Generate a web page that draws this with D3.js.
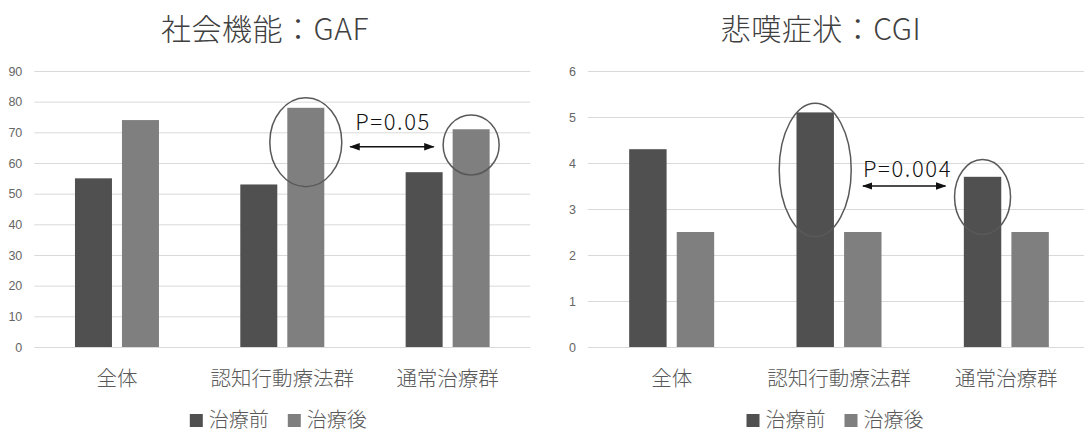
<!DOCTYPE html>
<html><head><meta charset="utf-8">
<script src="https://cdn.jsdelivr.net/npm/d3@7"></script>
<style>body{margin:0;background:#fff}svg{display:block}text{font-family:"Noto Sans CJK JP","Noto Sans",sans-serif;font-weight:300}</style>
</head><body>
<svg id="c" width="1084" height="433"></svg>
<script>
const categories = ["全体", "認知行動療法群", "通常治療群"];
const seriesNames = ["治療前", "治療後"];
const gafBefore = [55, 53, 57];
const gafAfter = [74, 78, 71];
const cgiBefore = [4.3, 5.1, 3.7];
const cgiAfter = [2.5, 2.5, 2.5];
const gafTicks = [0, 10, 20, 30, 40, 50, 60, 70, 80, 90];
const cgiTicks = [0, 1, 2, 3, 4, 5, 6];
const titles = ["社会機能：GAF", "悲嘆症状：CGI"];
const pLabels = ["P=0.05", "P=0.004"];
const colors = ["#505050", "#7f7f7f"];

const svg = d3.select("#c");
const defs = svg.append("defs");
defs.append("marker").attr("id","ah").attr("viewBox","0 0 10 10").attr("refX",9).attr("refY",5)
  .attr("markerWidth",7).attr("markerHeight",7).attr("orient","auto-start-reverse")
  .append("path").attr("d","M0,1.5 L10,5 L0,8.5 Z").attr("fill","#111");

function chart(cfg) {
  const g = svg.append("g");
  const x0 = d3.scaleBand().domain(categories).range(cfg.xr).padding(0);
  const groupFrac = 0.508;
  const x1 = d3.scaleBand().domain(seriesNames)
    .range([x0.bandwidth()*(1-groupFrac)/2, x0.bandwidth()*(1+groupFrac)/2]).paddingInner(0.213);
  const y = d3.scaleLinear().domain([0, cfg.ymax]).range([347, 71]);
  const w = cfg.xr[1]-cfg.xr[0];

  const ax = g.append("g").attr("transform",`translate(${cfg.xr[0]},0)`)
    .call(d3.axisLeft(y).tickValues(cfg.ticks).tickSize(-w).tickPadding(12).tickFormat(d3.format("d")));
  ax.select(".domain").remove();
  ax.selectAll(".tick line").attr("stroke","#d9d9d9").attr("stroke-width",1);
  ax.selectAll(".tick text").attr("fill","#666").style("font-size","12.5px").style("font-family","'Liberation Sans',Arial,sans-serif").style("font-weight","400");

  const data = categories.map((c,i)=>({c, vals:[cfg.before[i], cfg.after[i]]}));
  const grp = g.selectAll(".grp").data(data).join("g").attr("transform",d=>`translate(${x0(d.c)},0)`);
  grp.selectAll("rect").data(d=>d.vals.map((v,k)=>({k,v}))).join("rect")
    .attr("x",d=>x1(seriesNames[d.k])).attr("width",x1.bandwidth())
    .attr("y",d=>y(d.v)).attr("height",d=>y(0)-y(d.v)).attr("fill",d=>colors[d.k]);

  g.selectAll(".cat").data(categories).join("text")
    .attr("x",d=>x0(d)+x0.bandwidth()/2).attr("y",386).attr("text-anchor","middle")
    .attr("fill","#595959").style("font-size","20.5px").text(d=>d);

  g.append("text").attr("x",cfg.titleX).attr("y",40).attr("text-anchor","middle")
    .attr("fill","#404040").style("font-size","30px").style("letter-spacing","0.5px").text(cfg.title);

  cfg.ellipses.forEach(e=>{
    const cx = x0(categories[e.cat]) + x1(seriesNames[e.s]) + x1.bandwidth()/2;
    g.append("ellipse").attr("cx",cx).attr("cy",y(e.cy)).attr("rx",e.rx).attr("ry",e.ry)
      .attr("fill","none").attr("stroke","#595959").attr("stroke-width",1.5);
  });
  const a = cfg.arrow;
  const xa = x0(categories[1]) + x0.bandwidth()/2 + a.x1off;
  const xb = x0(categories[2]) + x0.bandwidth()/2 + a.x2off;
  g.append("line").attr("x1",xa).attr("x2",xb).attr("y1",y(a.v)).attr("y2",y(a.v))
    .attr("stroke","#111").attr("stroke-width",1.5)
    .attr("marker-start","url(#ah)").attr("marker-end","url(#ah)");
  g.append("text").attr("x",xa+a.tdx).attr("y",y(a.v)+a.tdy).attr("fill","#111")
    .style("font-size","22px").style("letter-spacing","1.6px").text(cfg.p);

  const lg = g.append("g");
  let cx = 0;
  seriesNames.forEach((s,k)=>{
    lg.append("rect").attr("x",cx).attr("y",414).attr("width",13).attr("height",13).attr("fill",colors[k]);
    const t = lg.append("text").attr("x",cx+19).attr("y",427).attr("fill","#595959").style("font-size","20px").text(s);
    cx += 19 + t.node().getComputedTextLength() + 19;
  });
  const lw = cx - 19;
  const center = (cfg.xr[0]+cfg.xr[1])/2 - 4;
  lg.attr("transform",`translate(${center - lw/2},0)`);
}

chart({xr:[34.3,530.3], ymax:90, ticks:gafTicks, before:gafBefore, after:gafAfter, title:titles[0], titleX:265,
  ellipses:[{cat:1,s:1,cy:66.8,rx:36,ry:44.5},{cat:2,s:1,cy:65.9,rx:28,ry:30}],
  arrow:{v:65.3,x1off:68,x2off:-14,tdx:5,tdy:-17}, p:pLabels[0]});
chart({xr:[588,1090], ymax:6, ticks:cgiTicks, before:cgiBefore, after:cgiAfter, title:titles[1], titleX:821,
  ellipses:[{cat:1,s:0,cy:3.85,rx:36,ry:66.7},{cat:2,s:0,cy:3.26,rx:28,ry:37.5}],
  arrow:{v:3.5,x1off:24,x2off:-61,tdx:0,tdy:-9}, p:pLabels[1]});
</script>
</body></html>
